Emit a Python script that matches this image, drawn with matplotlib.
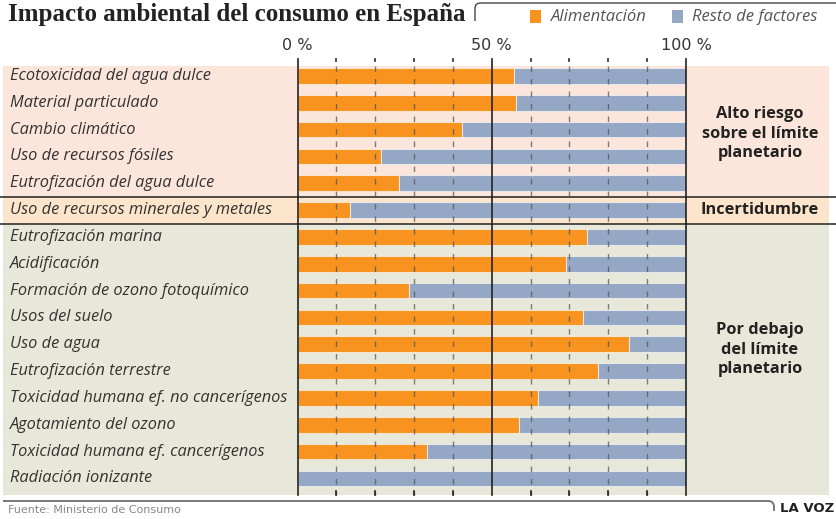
import matplotlib
matplotlib.use("Agg")
import matplotlib.pyplot as plt
import matplotlib.transforms as mtransforms
from matplotlib.patches import Rectangle
from matplotlib.lines import Line2D
from matplotlib.path import Path
from matplotlib.patches import PathPatch

categories = [
    "Ecotoxicidad del agua dulce",
    "Material particulado",
    "Cambio climático",
    "Uso de recursos fósiles",
    "Eutrofización del agua dulce",
    "Uso de recursos minerales y metales",
    "Eutrofización marina",
    "Acidificación",
    "Formación de ozono fotoquímico",
    "Usos del suelo",
    "Uso de agua",
    "Eutrofización terrestre",
    "Toxicidad humana ef. no cancerígenos",
    "Agotamiento del ozono",
    "Toxicidad humana ef. cancerígenos",
    "Radiación ionizante",
]
alimentacion = [55.8, 56.2, 42.4, 21.5, 26.1, 13.5, 74.6, 69.0, 28.8, 73.6, 85.4, 77.3, 61.8, 57.1, 33.3, 0.0]
resto = [100 - v for v in alimentacion]

groups = ["Alto riesgo\nsobre el límite\nplanetario", "Incertidumbre", "Por debajo\ndel límite\nplanetario"]
group_ranges = [(0, 4), (5, 5), (6, 15)]
group_colors = ["#fce6dc", "#fde5cc", "#e8e8da"]

xticks = [0, 50, 100]
xtick_labels = ["0 %", "50 %", "100 %"]

W, H = 836, 519
fig = plt.figure(figsize=(W / 100, H / 100), dpi=100)
fig.patch.set_facecolor("white")

def fx(px):
    return px / W

def fy(py):
    return 1 - py / H

ax_left, ax_right, ax_top, ax_bot = 297.5, 686, 66, 494.5
ax = fig.add_axes([fx(ax_left), fy(ax_bot), fx(ax_right - ax_left), fy(ax_top) - fy(ax_bot)])
ax.set_facecolor("none")
ax.set_xlim(0, 100)
ax.set_ylim(15.6, -0.37)
for s in ax.spines.values():
    s.set_visible(False)
ax.set_xticks([])
ax.set_yticks([])

orange = "#f7931e"
blue = "#94a7c4"
y = list(range(len(categories)))
ax.barh(y, alimentacion, height=0.58, color=orange, edgecolor=(1, 1, 1, 0.6), linewidth=0.8, zorder=3)
ax.barh(y, resto, left=alimentacion, height=0.58, color=blue, edgecolor=(1, 1, 1, 0.6), linewidth=0.8, zorder=3)

# background bands spanning figure width
blend = mtransforms.blended_transform_factory(fig.transFigure, ax.transData)
for (a, b), col in zip(group_ranges, group_colors):
    top = a - 0.5 if a > 0 else -0.37
    bot = b + 0.5 if b < 15 else 15.6
    ax.add_patch(Rectangle((fx(3), top), fx(829) - fx(3), bot - top, transform=blend,
                           facecolor=col, edgecolor="none", zorder=0, clip_on=False))
for yy in [4.5, 5.5]:
    ax.add_line(Line2D([0, 1], [yy, yy], transform=blend, color="#222222", lw=1.1, zorder=1, clip_on=False))

# gridlines
for v in range(10, 100, 10):
    if v == 50:
        continue
    ax.plot([v, v], [-0.37, 15.6], color="#555555", alpha=0.75, lw=1.0, ls=(0, (4, 5)), zorder=4, clip_on=False)
tick_top = (59 - 76) / 26.8
tick_top2 = (61.5 - 76) / 26.8
for v in range(0, 101, 10):
    if v in xticks:
        ax.plot([v, v], [tick_top, 15.6], color="#222222", lw=1.2, zorder=5, clip_on=False)
    else:
        ax.plot([v, v], [tick_top, tick_top2], color="#222222", lw=1.2, zorder=5, clip_on=False)
        ax.plot([v, v], [15.48, 15.6], color="#222222", lw=1.2, zorder=5, clip_on=False)

for v, lab in zip(xticks, xtick_labels):
    ax.text(v, (46 - 76) / 26.8, lab, ha="center", va="center", fontsize=11.5,
            family=["Liberation Sans Narrow", "DejaVu Sans"], color="#333333", clip_on=False)

# category labels
for i, c in zip(y, categories):
    ax.text(fx(10), i, c, transform=blend, ha="left", va="center", fontsize=11.8,
            family=["Open Sans", "DejaVu Sans"], style="italic", color="#333333", clip_on=False)

# group labels
group_centers = [133.5, 210, 349.5]
for g, cy in zip(groups, group_centers):
    fig.text(fx(760), fy(cy), g, ha="center", va="center", fontsize=11.8,
             family=["Open Sans", "DejaVu Sans"], weight="bold", color="#222222", linespacing=1.3)

# title
fig.text(fx(8), fy(14), "Impacto ambiental del consumo en España", ha="left", va="center",
         fontsize=18, family=["Liberation Serif", "DejaVu Serif"], weight="bold", color="#222222")

# legend frame
verts = [(fx(475), fy(21)), (fx(475), fy(8)), (fx(475), fy(3)), (fx(481), fy(3)), (fx(836), fy(3))]
codes = [Path.MOVETO, Path.LINETO, Path.CURVE3, Path.CURVE3, Path.LINETO]
fig.patches.append(PathPatch(Path(verts, codes), transform=fig.transFigure, fill=False,
                             edgecolor="#444444", lw=1.0))
fig.patches.append(Rectangle((fx(530), fy(23)), fx(11), fy(10) - fy(23), transform=fig.transFigure,
                             facecolor=orange, edgecolor="none"))
fig.text(fx(551), fy(17), "Alimentación", ha="left", va="center", fontsize=12,
         family=["Open Sans", "DejaVu Sans"], style="italic", color="#555555")
fig.patches.append(Rectangle((fx(672), fy(23)), fx(11), fy(10) - fy(23), transform=fig.transFigure,
                             facecolor=blue, edgecolor="none"))
fig.text(fx(692), fy(17), "Resto de factores", ha="left", va="center", fontsize=12,
         family=["Open Sans", "DejaVu Sans"], style="italic", color="#555555")

# footer
verts = [(fx(3), fy(501)), (fx(768), fy(501)), (fx(774), fy(501)), (fx(774), fy(507)), (fx(774), fy(511))]
codes = [Path.MOVETO, Path.LINETO, Path.CURVE3, Path.CURVE3, Path.LINETO]
fig.patches.append(PathPatch(Path(verts, codes), transform=fig.transFigure, fill=False,
                             edgecolor="#777777", lw=1.4))
fig.text(fx(8), fy(510), "Fuente: Ministerio de Consumo", ha="left", va="center", fontsize=8,
         family=["Liberation Sans Narrow", "DejaVu Sans"], color="#888888")
fig.text(fx(780), fy(508), "LA VOZ", ha="left", va="center", fontsize=9.5,
         family=["Liberation Sans Narrow", "DejaVu Sans"], weight="bold", color="#222222")

fig.savefig("out.png", dpi=100)
